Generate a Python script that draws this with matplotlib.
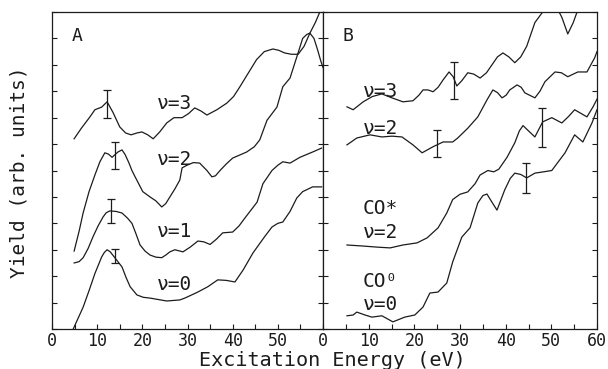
import numpy as np
import matplotlib
matplotlib.use('Agg')
import matplotlib.pyplot as plt

a_v3_e = [4.9, 6.5, 8.4, 9.5, 11.0, 12.2, 13.5, 15.0, 16.3, 17.5, 18.8, 19.9, 21.2, 22.4, 23.8,
          25.4, 27.0, 28.8, 30.2, 31.6, 33.0, 34.3, 36.5, 38.7, 40.2, 41.6, 43.5, 45.3, 47.0,
          48.9, 50.2, 51.5, 53.0, 54.5, 55.8, 57.1, 58.3, 59.3, 60.0]
a_v3_y = [7.2, 7.6, 8.03, 8.3, 8.4, 8.6, 8.2, 7.65, 7.42, 7.35, 7.42, 7.46, 7.35, 7.2, 7.45,
          7.8, 8.0, 8.0, 8.15, 8.37, 8.25, 8.1, 8.3, 8.55, 8.8, 9.17, 9.7, 10.2, 10.5,
          10.6, 10.55, 10.45, 10.4, 10.4, 10.7, 11.2, 11.6, 12.0, 12.3]

a_v2_e = [4.9, 6.0, 6.9, 8.2, 9.5, 10.6, 11.7, 12.5, 13.3, 14.6, 15.5, 16.2, 17.0, 17.7, 18.4,
          20.1, 21.7, 23.0, 24.3, 25.2, 26.1, 27.2, 28.3, 28.8, 29.9, 31.3, 32.7, 34.3, 35.4,
          36.2, 37.2, 38.6, 40.0, 43.1, 44.8, 46.0, 47.6, 49.8, 51.1, 52.7, 54.2, 55.5, 56.4,
          57.1, 58.0, 58.8, 59.5, 60.0]
a_v2_y = [2.95, 3.7, 4.4, 5.2, 5.83, 6.33, 6.67, 6.62, 6.5, 6.7, 6.78, 6.6, 6.3, 6.0, 5.76,
          5.2, 5.0, 4.85, 4.62, 4.75, 5.0, 5.3, 5.64, 6.1, 6.2, 6.3, 6.28, 6.0, 5.76,
          5.8, 6.0, 6.25, 6.47, 6.7, 6.9, 7.16, 7.9, 8.4, 9.17, 9.5, 10.3, 11.0, 11.15,
          11.2, 11.0, 10.57, 10.15, 9.9]

a_v1_e = [4.9, 6.0, 6.9, 8.0, 9.1, 10.2, 11.3, 12.0, 12.8, 14.2, 15.5, 16.7, 17.7, 18.6, 19.5,
          20.6, 21.7, 23.0, 24.3, 25.2, 26.1, 27.2, 29.0, 30.6, 32.3, 33.6, 35.0, 36.4, 37.8,
          40.0, 41.4, 42.7, 45.4, 46.7, 48.7, 50.0, 51.1, 52.7, 54.9, 57.7, 59.7]
a_v1_y = [2.5, 2.55, 2.7, 3.05, 3.5, 3.9, 4.24, 4.4, 4.47, 4.45, 4.39, 4.2, 4.0, 3.6, 3.18,
          2.95, 2.8, 2.72, 2.7, 2.8, 2.92, 3.0, 2.92, 3.1, 3.33, 3.3, 3.2, 3.4, 3.64,
          3.67, 3.9, 4.2, 4.8, 5.5, 6.0, 6.2, 6.33, 6.28, 6.5, 6.7, 6.85]

a_v0_e = [4.7, 6.9, 8.2, 9.5, 11.0, 11.6, 12.2, 12.9, 13.9, 15.5, 16.4, 17.3, 18.8, 20.2, 21.7,
          25.4, 28.3, 29.4, 30.8, 32.3, 34.5, 36.7, 38.6, 40.5, 42.3, 44.5, 47.1, 48.7, 50.0,
          51.1, 52.7, 54.2, 55.5, 57.7, 59.7]
a_v0_y = [0.0, 0.83, 1.45, 2.1, 2.73, 2.9, 3.0, 2.92, 2.7, 2.35, 1.95, 1.6, 1.29, 1.2, 1.17,
          1.06, 1.1, 1.17, 1.28, 1.4, 1.6, 1.86, 1.84, 1.78, 2.23, 2.88, 3.5, 3.86, 4.0,
          4.05, 4.45, 4.96, 5.2, 5.38, 5.38]

# panel B
b_v3_e = [5.25, 6.6, 8.8, 10.8, 12.9, 15.1, 17.5, 19.7, 21.0, 21.9, 23.0, 24.1, 25.2, 26.3, 27.6,
          28.5, 29.3, 30.4, 31.7, 33.0, 34.4, 35.8, 37.0, 38.2, 39.4, 40.7, 42.0, 43.3, 44.6,
          46.4, 48.1, 50.5, 52.3, 53.6, 54.8, 55.8]
b_v3_y = [8.41, 8.3, 8.6, 8.8, 8.9, 8.75, 8.6, 8.64, 8.85, 9.05, 9.05, 8.98, 9.15, 9.43, 9.73,
          9.55, 9.2, 9.4, 9.7, 9.65, 9.5, 9.7, 10.0, 10.3, 10.45, 10.3, 10.08, 10.3, 10.7,
          11.6, 12.0, 12.4, 11.8, 11.17, 11.6, 12.08]

b_v2_e = [5.25, 7.4, 10.3, 12.9, 15.1, 17.3, 19.7, 21.7, 24.1, 26.3, 28.4, 29.5, 31.7, 33.9,
          35.9, 37.2, 38.2, 39.2, 40.1, 40.9, 42.5, 43.4, 44.2, 46.4, 47.5, 48.6, 50.8, 52.2,
          53.6, 55.8, 57.8, 59.5, 60.0]
b_v2_y = [6.97, 7.23, 7.35, 7.27, 7.3, 7.27, 6.97, 6.67, 6.9, 7.08, 7.08, 7.23, 7.6, 8.03,
          8.67, 9.05, 8.95, 8.75, 8.85, 9.05, 9.24, 9.15, 8.94, 8.75, 9.0, 9.36, 9.73, 9.7,
          9.55, 9.73, 9.73, 10.27, 10.5]

b_cos_e = [5.25, 8.8, 11.8, 14.7, 17.5, 20.6, 22.8, 25.2, 27.1, 28.4, 30.0, 31.7, 33.3,
           34.4, 36.1, 37.4, 38.5, 40.3, 42.0, 43.0, 43.8, 45.0, 46.4, 48.1, 50.1, 52.3,
           53.8, 55.1, 57.8, 59.1, 60.0]
b_cos_y = [3.18, 3.14, 3.1, 3.07, 3.18, 3.26, 3.45, 3.83, 4.39, 4.9, 5.1, 5.19, 5.5,
           5.83, 6.0, 5.95, 6.05, 6.5, 7.05, 7.5, 7.7, 7.5, 7.27, 7.84, 8.0, 7.8,
           8.05, 8.3, 8.03, 8.4, 8.7]

b_co0_e = [5.25, 6.6, 7.4, 9.2, 10.7, 12.9, 15.3, 17.9, 20.1, 21.9, 23.4, 25.2, 27.1, 28.4,
           30.4, 32.2, 33.9, 35.0, 35.9, 37.0, 38.1, 39.8, 41.0, 42.0, 43.3, 44.6, 46.4, 48.3,
           50.1, 53.0, 55.1, 56.9, 58.9, 60.0]
b_co0_y = [0.5, 0.53, 0.64, 0.53, 0.45, 0.5, 0.27, 0.45, 0.53, 0.83, 1.36, 1.4, 1.74, 2.54,
           3.48, 3.83, 4.77, 5.05, 5.11, 4.8, 4.5, 5.27, 5.7, 5.9, 5.85, 5.72, 5.9, 5.95,
           6.0, 6.67, 7.35, 7.08, 7.8, 8.3]

# error bars: energy, centre, half length
a_err_e = [12.2, 13.9, 13.1, 13.9]
a_err_y = [8.52, 6.57, 4.46, 2.77]
a_err_h = [0.52, 0.51, 0.46, 0.27]
b_err_e = [28.7, 25.0, 48.0, 44.4]
b_err_y = [9.41, 7.03, 7.63, 5.72]
b_err_h = [0.70, 0.51, 0.73, 0.57]

mono = ['DejaVu Sans Mono', 'DejaVu Sans']
ink = '#1c1c1c'
plt.rcParams['font.family'] = mono
plt.rcParams['axes.edgecolor'] = ink
plt.rcParams['xtick.color'] = ink
plt.rcParams['ytick.color'] = ink

fig = plt.figure(figsize=(6.08, 3.69), dpi=100)
axA = fig.add_axes([52/608, 40/369, 271/608, 317/369])
axB = fig.add_axes([323/608, 40/369, 274/608, 317/369])

for ax in (axA, axB):
    ax.set_xlim(0, 60)
    ax.set_ylim(0, 12)
    ax.set_yticks(np.arange(0, 13, 1))
    ax.set_yticklabels([])
    ax.set_xticks(np.arange(0, 61, 5), minor=True)
    ax.tick_params(axis='both', which='both', direction='in', length=3.5, width=0.8,
                   labelsize=12, pad=2.5)
    ax.tick_params(axis='y', left=True, right=True)
    for s in ax.spines.values():
        s.set_linewidth(0.9)

axA.set_xticks([0, 10, 20, 30, 40, 50])
axB.set_xticks([0, 10, 20, 30, 40, 50, 60])

lw = 0.9
for e, y in [(a_v3_e, a_v3_y), (a_v2_e, a_v2_y), (a_v1_e, a_v1_y), (a_v0_e, a_v0_y)]:
    axA.plot(e, y, color=ink, lw=lw)
for e, y in [(b_v3_e, b_v3_y), (b_v2_e, b_v2_y), (b_cos_e, b_cos_y), (b_co0_e, b_co0_y)]:
    axB.plot(e, y, color=ink, lw=lw)

axA.errorbar(a_err_e, a_err_y, yerr=a_err_h, fmt='none', ecolor=ink, elinewidth=0.9,
             capsize=2.6, capthick=0.9)
axB.errorbar(b_err_e, b_err_y, yerr=b_err_h, fmt='none', ecolor=ink, elinewidth=0.9,
             capsize=2.6, capthick=0.9)

fs = 14
axA.text(4.4, 11.1, 'A', fontsize=13, color=ink, va='center')
axB.text(4.2, 11.1, 'B', fontsize=13, color=ink, va='center')
for y, t in [(8.54, 'ν=3'), (6.4, 'ν=2'), (3.7, 'ν=1'), (1.7, 'ν=0')]:
    axA.text(23.2, y, t, fontsize=fs, color=ink, va='center')
for y, t in [(9.0, 'ν=3'), (7.6, 'ν=2'), (4.58, 'CO*'), (3.67, 'ν=2'), (1.78, 'CO⁰'),
             (0.91, 'ν=0')]:
    axB.text(8.75, y, t, fontsize=fs, color=ink, va='center')

fig.text(332/608, 1 - 366/369, 'Excitation Energy (eV)', fontsize=14.5, color=ink,
         ha='center', va='baseline')
fig.text(19/608, 1 - 172/369, 'Yield (arb. units)', fontsize=14, color=ink,
         ha='center', va='center', rotation=90)

fig.savefig('out.png', dpi=100)
